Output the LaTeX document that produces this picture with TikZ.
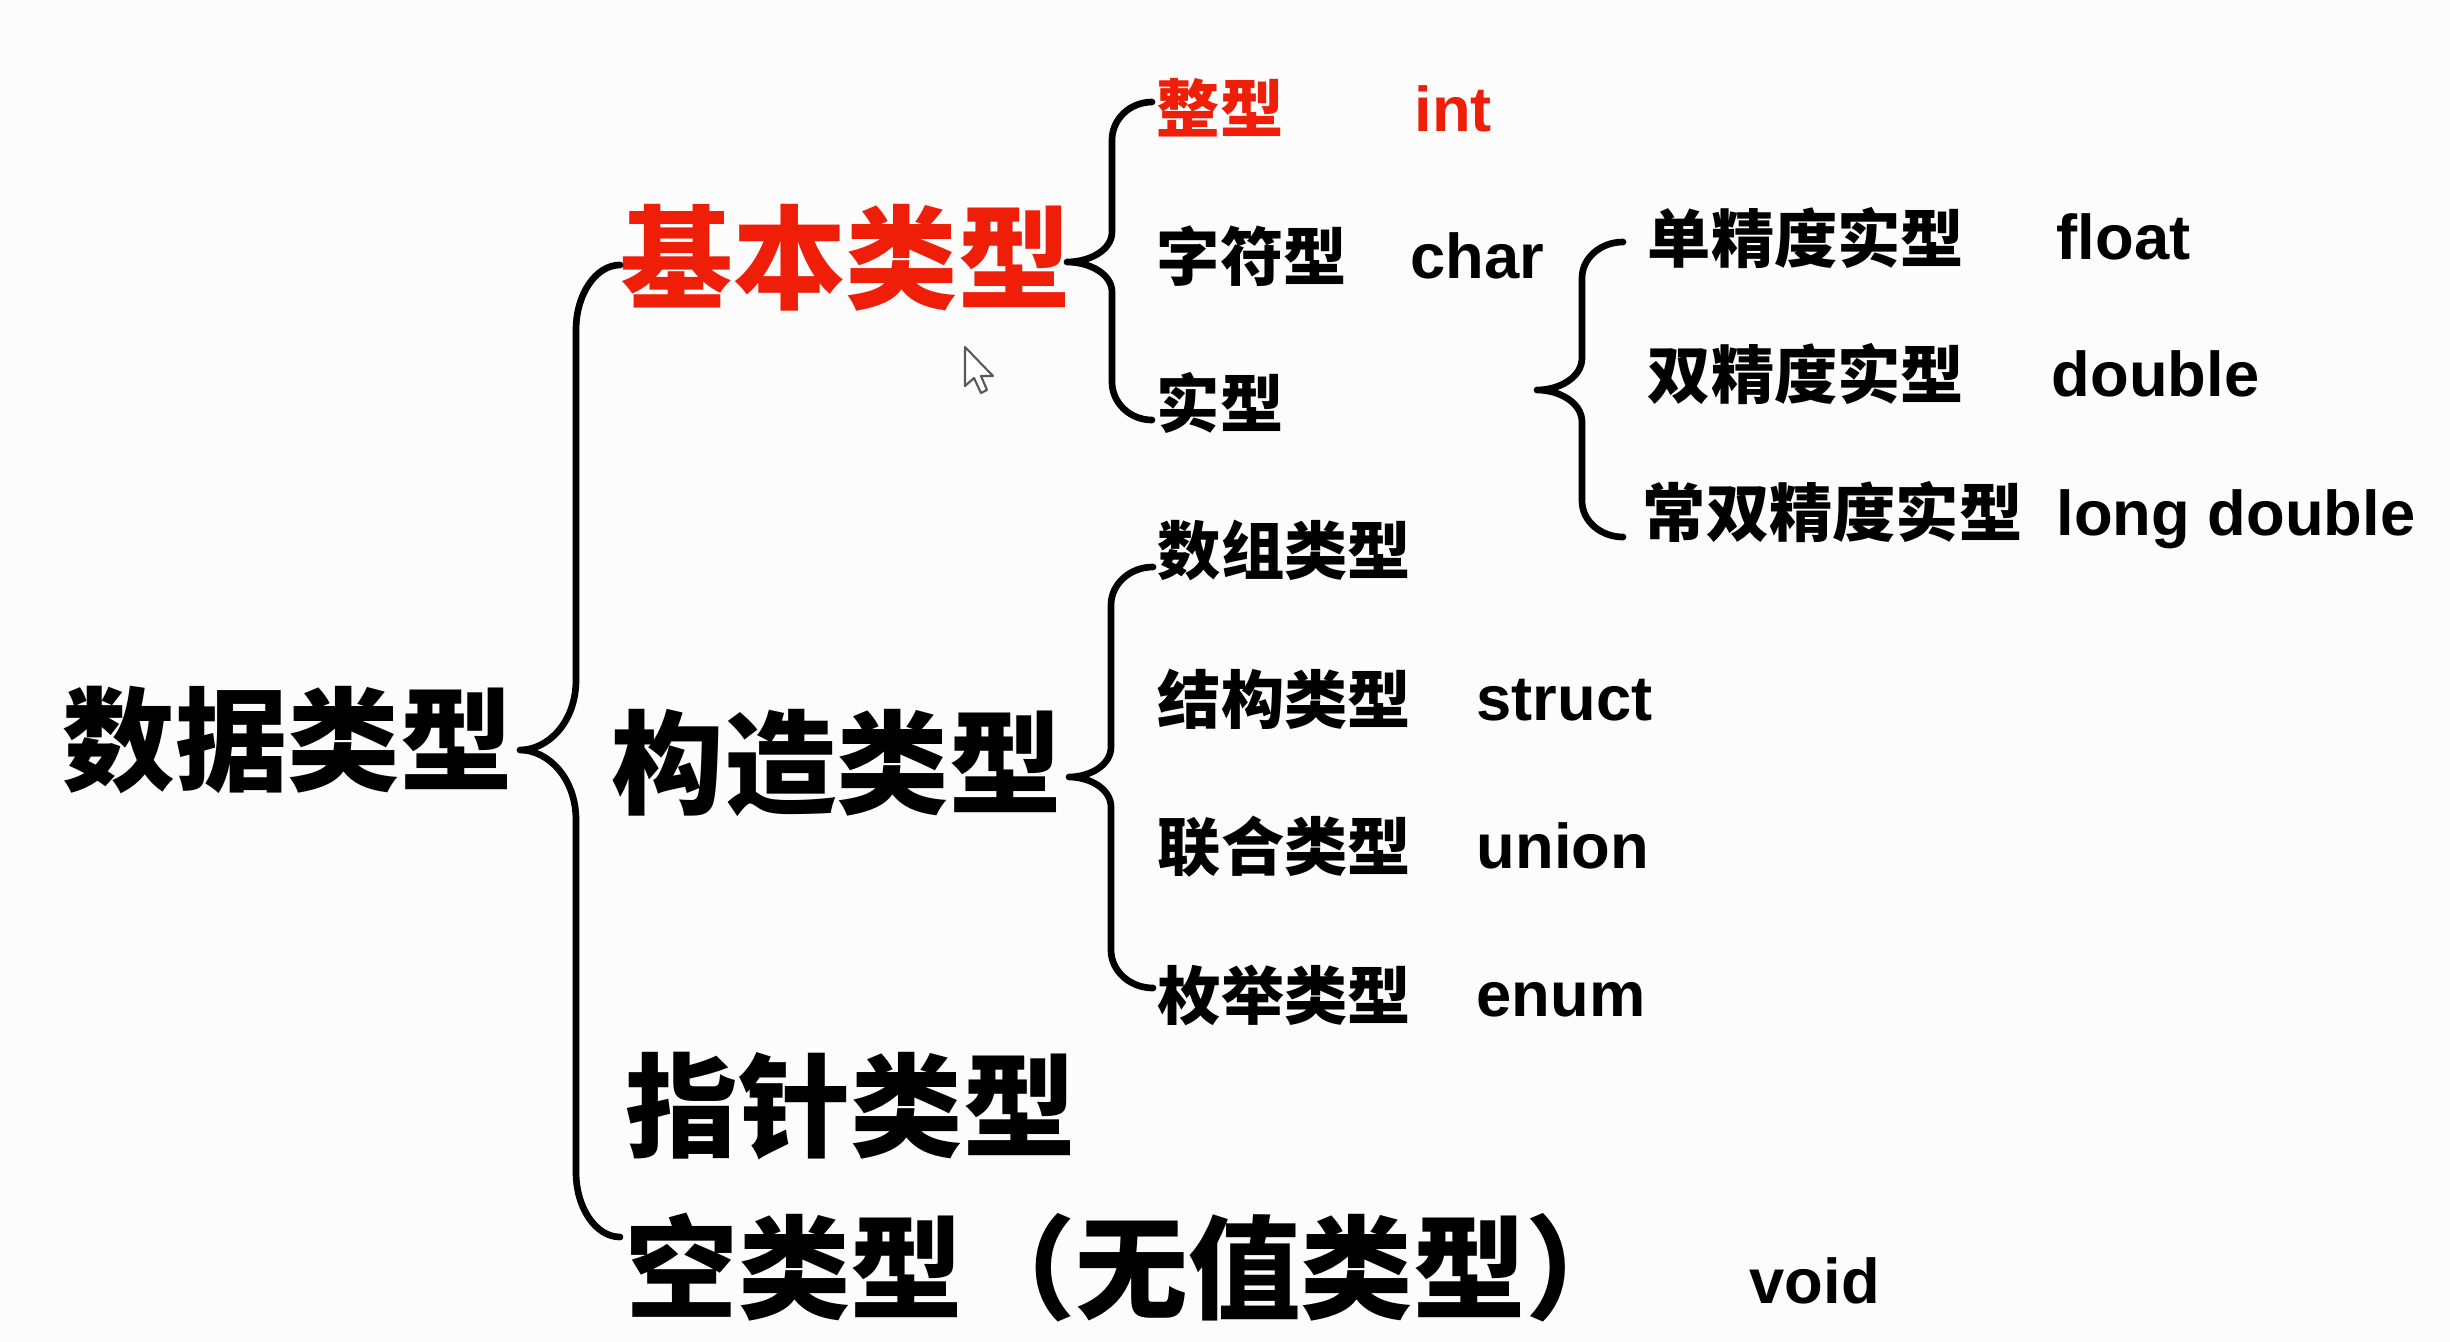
\documentclass[tikz,border=0pt]{standalone}
\usepackage{fontspec}
\newfontfamily\cjk{Noto Sans CJK SC}
\newfontfamily\lat{Liberation Sans}
\definecolor{myred}{RGB}{238,30,8}
\definecolor{bgc}{RGB}{252,252,252}
\tikzset{
  lvone/.style={font=\cjk\bfseries\fontsize{32}{36}\selectfont, anchor=west, inner sep=0pt},
  lvtwo/.style={font=\cjk\bfseries\fontsize{18}{22}\selectfont, anchor=west, inner sep=0pt},
  latin/.style={font=\lat\bfseries\fontsize{18}{22}\selectfont, anchor=base west, inner sep=0pt},
  bracestyle/.style={draw=black, line width=1.9pt, line cap=round, line join=round},
}
% #1 end x, #2 top y, #3 vertical x, #4 tip x, #5 tip y, #6 bottom y, #7 curl span, #8 tip span
\newcommand\mybrace[8]{%
  \draw[bracestyle] (#1,#2) .. controls (#3+0.45*#1-0.45*#3,#2) and (#3,#2+0.45*#7) .. (#3,#2+#7)
    -- (#3,#5-#8) .. controls (#3,#5-0.4*#8) and (#4+0.5*#3-0.5*#4,#5) .. (#4,#5)
    .. controls (#4+0.5*#3-0.5*#4,#5) and (#3,#5+0.4*#8) .. (#3,#5+#8)
    -- (#3,#6-#7) .. controls (#3,#6-0.45*#7) and (#3+0.45*#1-0.45*#3,#6) .. (#1,#6);}
\begin{document}
\begin{tikzpicture}[x=0.01cm,y=-0.01cm]
\fill[bgc] (0,0) rectangle (2450,1342);
\useasboundingbox (0,0) rectangle (2450,1342);

% level 0 and 1
\node[lvone] (root) at (62,740) {数据类型};
\node[lvone, text=myred] (basic) at (620,258) {基本类型};
\node[lvone] (constr) at (611,763) {构造类型};
\node[lvone] (ptr) at (625,1106) {指针类型};
\node[lvone] (empty) at (625,1268) {空类型（无值类型）};
\node[latin] (void) at (1749,1303) {void};

% basic children
\node[lvtwo, text=myred] (int) at (1156,108) {整型};
\node[latin, text=myred] (intl) at (1414,131) {int};
\node[lvtwo] (chr) at (1156,256) {字符型};
\node[latin] (chrl) at (1410,278) {char};
\node[lvtwo] (real) at (1156,403) {实型};

% real children
\node[lvtwo] (flt) at (1647,238) {单精度实型};
\node[latin] (fltl) at (2056,259) {float};
\node[lvtwo] (dbl) at (1647,374) {双精度实型};
\node[latin] (dbll) at (2051,396) {double};
\node[lvtwo] (ldbl) at (1642,512) {常双精度实型};
\node[latin] (ldbll) at (2056,535) {long double};

% constructed children
\node[lvtwo] (arr) at (1157,550) {数组类型};
\node[lvtwo] (str) at (1157,699) {结构类型};
\node[latin] (strl) at (1476,720) {struct};
\node[lvtwo] (uni) at (1157,847) {联合类型};
\node[latin] (unil) at (1476,868) {union};
\node[lvtwo] (enm) at (1157,995) {枚举类型};
\node[latin] (enml) at (1476,1016) {enum};

% braces
\mybrace{620}{265}{576}{520}{750}{1237}{65}{70}
\mybrace{1152}{102}{1112}{1067}{262}{420}{38}{30}
\mybrace{1623}{242}{1582}{1537}{390}{537}{36}{32}
\mybrace{1153}{567}{1111}{1069}{777}{988}{38}{30}

% mouse cursor
\draw[fill=white, draw=black!65, line width=0.6pt, line join=round]
  (965,347) -- (965,386) -- (974,378) -- (981,393) -- (987,390) -- (981,376) -- (993,376) -- cycle;
\end{tikzpicture}
\end{document}
